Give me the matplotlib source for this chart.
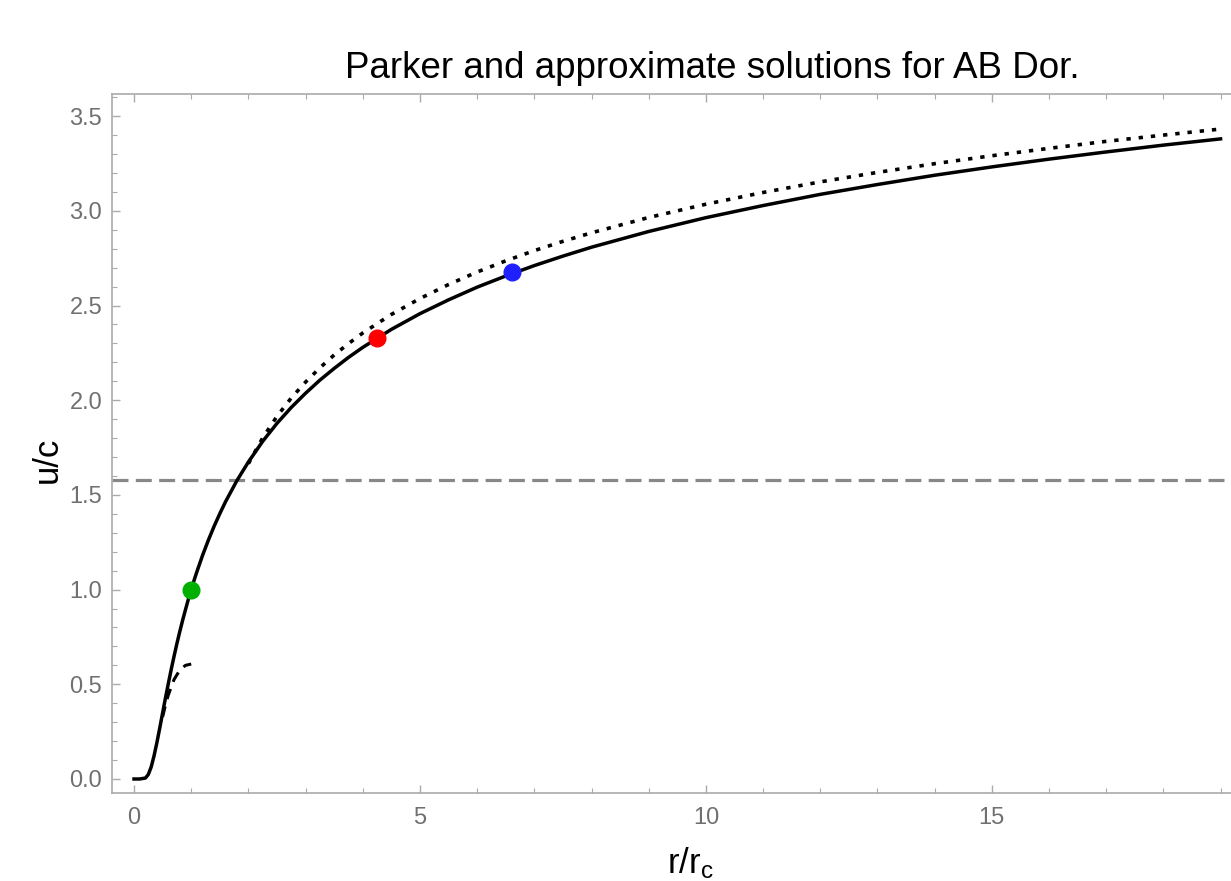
import matplotlib
matplotlib.use('Agg')
import matplotlib.pyplot as plt
from matplotlib.ticker import MultipleLocator

plt.rcParams['font.family'] = ['Liberation Sans', 'DejaVu Sans']
plt.rcParams['mathtext.fontset'] = 'custom'
plt.rcParams['mathtext.rm'] = 'Liberation Sans'
plt.rcParams['mathtext.it'] = 'Liberation Sans'

# Parker solution (solid)
r_parker = [0.0, 0.1, 0.2, 0.25, 0.3, 0.35, 0.4, 0.45, 0.5, 0.55, 0.6, 0.65, 0.7, 0.75, 0.8, 0.85, 0.9, 0.95,
            1.0, 1.05, 1.1, 1.2, 1.3, 1.4, 1.5, 1.6, 1.8, 2.0, 2.25, 2.5, 2.75, 3.0, 3.25, 3.5, 3.75, 4.0,
            4.5, 5.0, 5.5, 6.0, 6.5, 7.0, 7.5, 8.0, 9.0, 10.0, 11.0, 12.0, 13.0, 14.0, 15.0, 16.0, 17.0,
            18.0, 19.0]
u_parker = [0.0, 0.0, 0.005, 0.024, 0.063, 0.122, 0.192, 0.269, 0.349, 0.428, 0.504, 0.578, 0.648, 0.715, 0.778, 0.838, 0.894, 0.949,
            1.0, 1.049, 1.095, 1.182, 1.261, 1.334, 1.401, 1.464, 1.576, 1.674, 1.783, 1.878, 1.962, 2.037, 2.106, 2.168, 2.226, 2.279,
            2.374, 2.457, 2.530, 2.597, 2.656, 2.711, 2.761, 2.808, 2.891, 2.964, 3.028, 3.087, 3.139, 3.188, 3.232, 3.273, 3.311,
            3.347, 3.380]

# large-r approximation (dotted)
r_far = [2.0, 2.25, 2.5, 2.75, 3.0, 3.25, 3.5, 3.75, 4.0, 4.5, 5.0, 5.5, 6.0, 6.5, 7.0, 7.5, 8.0, 9.0, 10.0,
         11.0, 12.0, 13.0, 14.0, 15.0, 16.0, 17.0, 18.0, 19.0]
u_far = [1.665, 1.801, 1.915, 2.012, 2.096, 2.171, 2.239, 2.299, 2.355, 2.453, 2.537, 2.611, 2.677, 2.736, 2.790, 2.839, 2.884, 2.965, 3.035,
         3.097, 3.153, 3.203, 3.249, 3.291, 3.330, 3.367, 3.400, 3.432]

# small-r approximation (dashed)
r_near = [0.5, 0.55, 0.6, 0.7, 0.8, 0.9, 1.0]
u_near = [0.328, 0.390, 0.444, 0.525, 0.575, 0.600, 0.607]

u_level = 1.58

pts_r = [1.0, 4.25, 6.61]
pts_u = [1.0, 2.33, 2.675]
pts_col = ['#00b000', '#ff0000', '#2020ff']

fig = plt.figure(figsize=(12.31, 8.81), dpi=100)
ax = fig.add_axes([112/1231, 88/881, 1128/1231, 699/881])

ax.axhline(u_level, color='#888888', lw=2.3, dashes=(5, 2.3))
ax.plot(r_far, u_far, color='black', lw=2.6, dashes=(1.2, 2.2))
ax.plot(r_near, u_near, color='black', lw=2.2, dashes=(3.5, 2.5))
ax.plot(r_parker, u_parker, color='black', lw=2.5)
for r, u, c in zip(pts_r, pts_u, pts_col):
	ax.plot(r, u, 'o', color=c, ms=12, zorder=5)

ax.set_xlim(-0.385, 19.34)
ax.set_ylim(-0.074, 3.617)

ax.xaxis.set_major_locator(MultipleLocator(5))
ax.xaxis.set_minor_locator(MultipleLocator(1))
ax.yaxis.set_major_locator(MultipleLocator(0.5))
ax.yaxis.set_minor_locator(MultipleLocator(0.1))
ax.yaxis.set_major_formatter(matplotlib.ticker.FormatStrFormatter('%.1f'))
ax.tick_params(which='both', direction='in', top=True, right=True, color='#aaaaaa',
	labelcolor='#707070', labelsize=17)
ax.tick_params(which='major', length=6, width=1)
ax.tick_params(which='minor', length=3.5, width=0.8)
ax.tick_params(axis='x', pad=10)
ax.tick_params(axis='y', pad=7)
for s in ax.spines.values():
	s.set_color('#aaaaaa')
	s.set_linewidth(1.2)

fig.text(712/1231, (881-78)/881, 'Parker and approximate solutions for AB Dor.', fontsize=26.5,
	ha='center', va='baseline')
fig.text(47/1231, (881-460)/881, 'u/c', fontsize=25, rotation=90, ha='center', va='center')
fig.text(690/1231, (881-873)/881, r'r/r$_\mathrm{c}$', fontsize=25, ha='center', va='baseline')

fig.savefig('out.png', dpi=100)
